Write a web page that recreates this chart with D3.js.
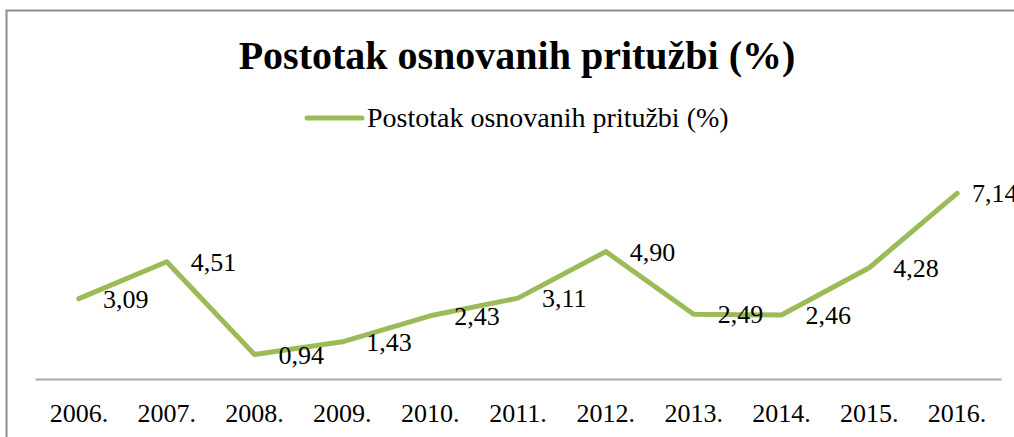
<!DOCTYPE html>
<html>
<head>
<meta charset="utf-8">
<script src="https://cdn.jsdelivr.net/npm/d3@7"></script>
<style>
  body { margin: 0; background: #fff; }
  svg text { font-family: 'Liberation Serif', serif; fill: #000; }
</style>
</head>
<body>
<div id="chart"></div>
<script>
const years = ['2006.', '2007.', '2008.', '2009.', '2010.', '2011.', '2012.', '2013.', '2014.', '2015.', '2016.']
const values = [3.09, 4.51, 0.94, 1.43, 2.43, 3.11, 4.90, 2.49, 2.46, 4.28, 7.14]
const seriesName = 'Postotak osnovanih pritužbi (%)'
const title = 'Postotak osnovanih pritužbi (%)'

const width = 1014
const height = 437
const green = '#9bbb59'

const svg = d3.select('#chart')
  .append('svg')
  .attr('width', width)
  .attr('height', height)

// chart area border (runs off the right edge)
svg.append('path')
  .attr('d', 'M6.5,437 V10.5 H1014')
  .attr('fill', 'none')
  .attr('stroke', '#8c8c8c')
  .attr('stroke-width', 2)

const x = d3.scaleBand()
  .domain(years)
  .range([35, 1001])
const y = d3.scaleLinear()
  .domain([0, 8])
  .range([379, 171])

const cx = d => x(d) + x.bandwidth() / 2

// title
svg.append('text')
  .attr('x', 517)
  .attr('y', 69)
  .attr('text-anchor', 'middle')
  .style('font-weight', 'bold')
  .style('font-size', '40px')
  .text(title)

// legend
svg.append('line')
  .attr('x1', 307).attr('x2', 362)
  .attr('y1', 118).attr('y2', 118)
  .attr('stroke', green)
  .attr('stroke-width', 5)
  .attr('stroke-linecap', 'round')
svg.append('text')
  .attr('x', 367)
  .attr('y', 127)
  .style('font-size', '28px')
  .text(seriesName)

// x axis
const xAxis = d3.axisBottom(x)
  .tickSize(0)
  .tickSizeOuter(0)
  .tickPadding(25)
const gx = svg.append('g')
  .attr('transform', 'translate(0,379)')
  .call(xAxis)
gx.select('.domain').attr('stroke', '#a6a6a6').attr('stroke-width', 2)
gx.selectAll('text')
  .style('font-family', "'Liberation Serif', serif")
  .style('font-size', '26px')
  .attr('fill', '#000')

// line
const line = d3.line()
  .x((d, i) => cx(years[i]))
  .y(d => y(d))

svg.append('path')
  .datum(values)
  .attr('d', line)
  .attr('fill', 'none')
  .attr('stroke', green)
  .attr('stroke-width', 5)
  .attr('stroke-linejoin', 'round')
  .attr('stroke-linecap', 'round')

// data labels, right of points (kept inside the plot like Excel does)
svg.append('g')
  .selectAll('text')
  .data(values)
  .join('text')
  .attr('x', (d, i) => Math.min(cx(years[i]) + 24, 972))
  .attr('y', d => y(d))
  .attr('dy', '0.35em')
  .style('font-size', '26px')
  .text(d => d3.format('.2f')(d).replace('.', ','))
</script>
</body>
</html>
